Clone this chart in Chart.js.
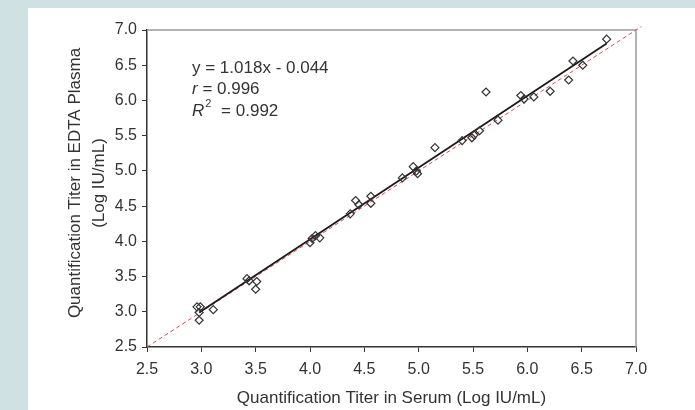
<!DOCTYPE html>
<html>
<head>
<meta charset="utf-8">
<script src="https://cdn.jsdelivr.net/npm/chart.js@4"></script>
<style>
  html, body { margin: 0; padding: 0; background: #d0e1e4; }
  #chart { display: block; }
</style>
</head>
<body>
<canvas id="chart" width="695" height="410"></canvas>
<script>
// --- data ---
const serum  = [2.96, 2.99, 2.98, 2.98, 3.11, 3.42, 3.44, 3.51, 3.50, 4.00, 4.02, 4.05, 4.09,
                4.37, 4.42, 4.45, 4.56, 4.56, 4.85, 4.95, 4.98, 4.99, 5.15, 5.40, 5.49, 5.51,
                5.56, 5.62, 5.73, 5.94, 5.97, 6.06, 6.21, 6.38, 6.42, 6.51, 6.73];
const plasma = [3.07, 3.07, 2.99, 2.88, 3.03, 3.47, 3.44, 3.43, 3.32, 3.98, 4.04, 4.08, 4.05,
                4.39, 4.58, 4.52, 4.64, 4.54, 4.90, 5.06, 5.00, 4.96, 5.33, 5.43, 5.47, 5.51,
                5.57, 6.12, 5.72, 6.07, 6.02, 6.05, 6.13, 6.29, 6.56, 6.50, 6.87];

// regression line y = 1.018x - 0.044 (ends of the drawn segment)
const fitX = [2.98, 6.73];
const fitY = [2.99, 6.81];

// dashed line of identity
const idX = [2.5, 7.05];
const idY = [2.5, 7.05];

const axisMin = 2.5, axisMax = 7.0, axisStep = 0.5;

const xTitle = 'Quantification Titer in Serum (Log IU/mL)';
const yTitle = ['Quantification Titer in EDTA Plasma', '(Log IU/mL)'];

const toPts = (xs, ys) => xs.map((x, i) => ({ x: x, y: ys[i] }));

const FONT = '"Liberation Sans", Arial, Helvetica, sans-serif';

// background, frame and texts
const decor = {
    id: 'decor',
    beforeDraw(chart) {
        const ctx = chart.ctx;
        ctx.save();
        ctx.fillStyle = '#d0e1e4';
        ctx.fillRect(0, 0, chart.width, chart.height);
        ctx.fillStyle = '#ffffff';
        ctx.fillRect(28, 8, chart.width - 28, chart.height - 8);
        ctx.restore();
    },
    beforeDatasetsDraw(chart) {
        const { ctx, chartArea: a } = chart;
        ctx.save();
        ctx.strokeStyle = '#9a9a9a';
        ctx.lineWidth = 1.5;
        ctx.beginPath();
        ctx.moveTo(a.left, a.top);
        ctx.lineTo(a.right, a.top);
        ctx.lineTo(a.right, a.bottom);
        ctx.stroke();
        ctx.restore();
    },
    afterDraw(chart) {
        const { ctx, chartArea: a } = chart;
        ctx.save();
        ctx.fillStyle = '#333';
        ctx.textBaseline = 'middle';

        // x title
        ctx.font = '17px ' + FONT;
        ctx.textAlign = 'center';
        ctx.fillText(xTitle, (a.left + a.right) / 2, 398);

        // y title, two lines
        ctx.save();
        ctx.translate(75, 183);
        ctx.rotate(-Math.PI / 2);
        ctx.fillText(yTitle[0], 0, 0);
        ctx.fillText(yTitle[1], 0, 24);
        ctx.restore();

        // equation block
        ctx.textAlign = 'left';
        ctx.textBaseline = 'alphabetic';
        const x0 = 192;
        ctx.font = '17px ' + FONT;
        ctx.fillText('y = 1.018x - 0.044', x0, 73);

        ctx.font = 'italic 17px ' + FONT;
        ctx.fillText('r', x0, 94);
        let w = ctx.measureText('r').width;
        ctx.font = '17px ' + FONT;
        ctx.fillText(' = 0.996', x0 + w, 94);

        ctx.font = 'italic 17px ' + FONT;
        ctx.fillText('R', x0, 116);
        w = ctx.measureText('R').width;
        ctx.font = '11px ' + FONT;
        ctx.fillText('2', x0 + w + 1, 107);
        const w2 = ctx.measureText('2').width;
        ctx.font = '17px ' + FONT;
        ctx.fillText(' = 0.992', x0 + w + w2 + 6, 116);

        ctx.restore();
    }
};

new Chart(document.getElementById('chart'), {
    type: 'scatter',
    data: {
        datasets: [
            {
                label: 'samples',
                data: toPts(serum, plasma),
                pointStyle: 'rectRot',
                pointRadius: 4,
                pointBorderWidth: 1.2,
                pointBorderColor: '#333',
                pointBackgroundColor: 'rgba(255,255,255,0)'
            },
            {
                label: 'fit',
                data: toPts(fitX, fitY),
                showLine: true,
                pointRadius: 0,
                borderColor: '#1a1a1a',
                borderWidth: 1.8
            },
            {
                label: 'identity',
                data: toPts(idX, idY),
                showLine: true,
                pointRadius: 0,
                borderColor: '#f04545',
                borderWidth: 1,
                borderDash: [4, 3],
                clip: 8
            }
        ]
    },
    options: {
        responsive: false,
        animation: false,
        events: [],
        layout: { padding: { left: 0, top: 30, right: 59, bottom: 0 } },
        plugins: {
            legend: { display: false },
            tooltip: { enabled: false }
        },
        scales: {
            x: {
                type: 'linear',
                min: axisMin,
                max: axisMax,
                afterFit(scale) { scale.height = 63; },
                ticks: {
                    stepSize: axisStep,
                    color: '#333',
                    font: { family: FONT, size: 16 },
                    padding: 8,
                    maxRotation: 0,
                    callback: v => v.toFixed(1)
                },
                grid: { display: true, drawOnChartArea: false, drawTicks: true, tickLength: 5, color: '#333' },
                border: { display: true, color: '#333', width: 1.5 }
            },
            y: {
                type: 'linear',
                min: axisMin,
                max: axisMax,
                afterFit(scale) { scale.width = 147; },
                ticks: {
                    stepSize: axisStep,
                    color: '#333',
                    font: { family: FONT, size: 16 },
                    padding: 5,
                    callback: v => v.toFixed(1)
                },
                grid: { display: true, drawOnChartArea: false, drawTicks: true, tickLength: 5, color: '#333' },
                border: { display: true, color: '#333', width: 1.5 }
            }
        }
    },
    plugins: [decor]
});
</script>
</body>
</html>
